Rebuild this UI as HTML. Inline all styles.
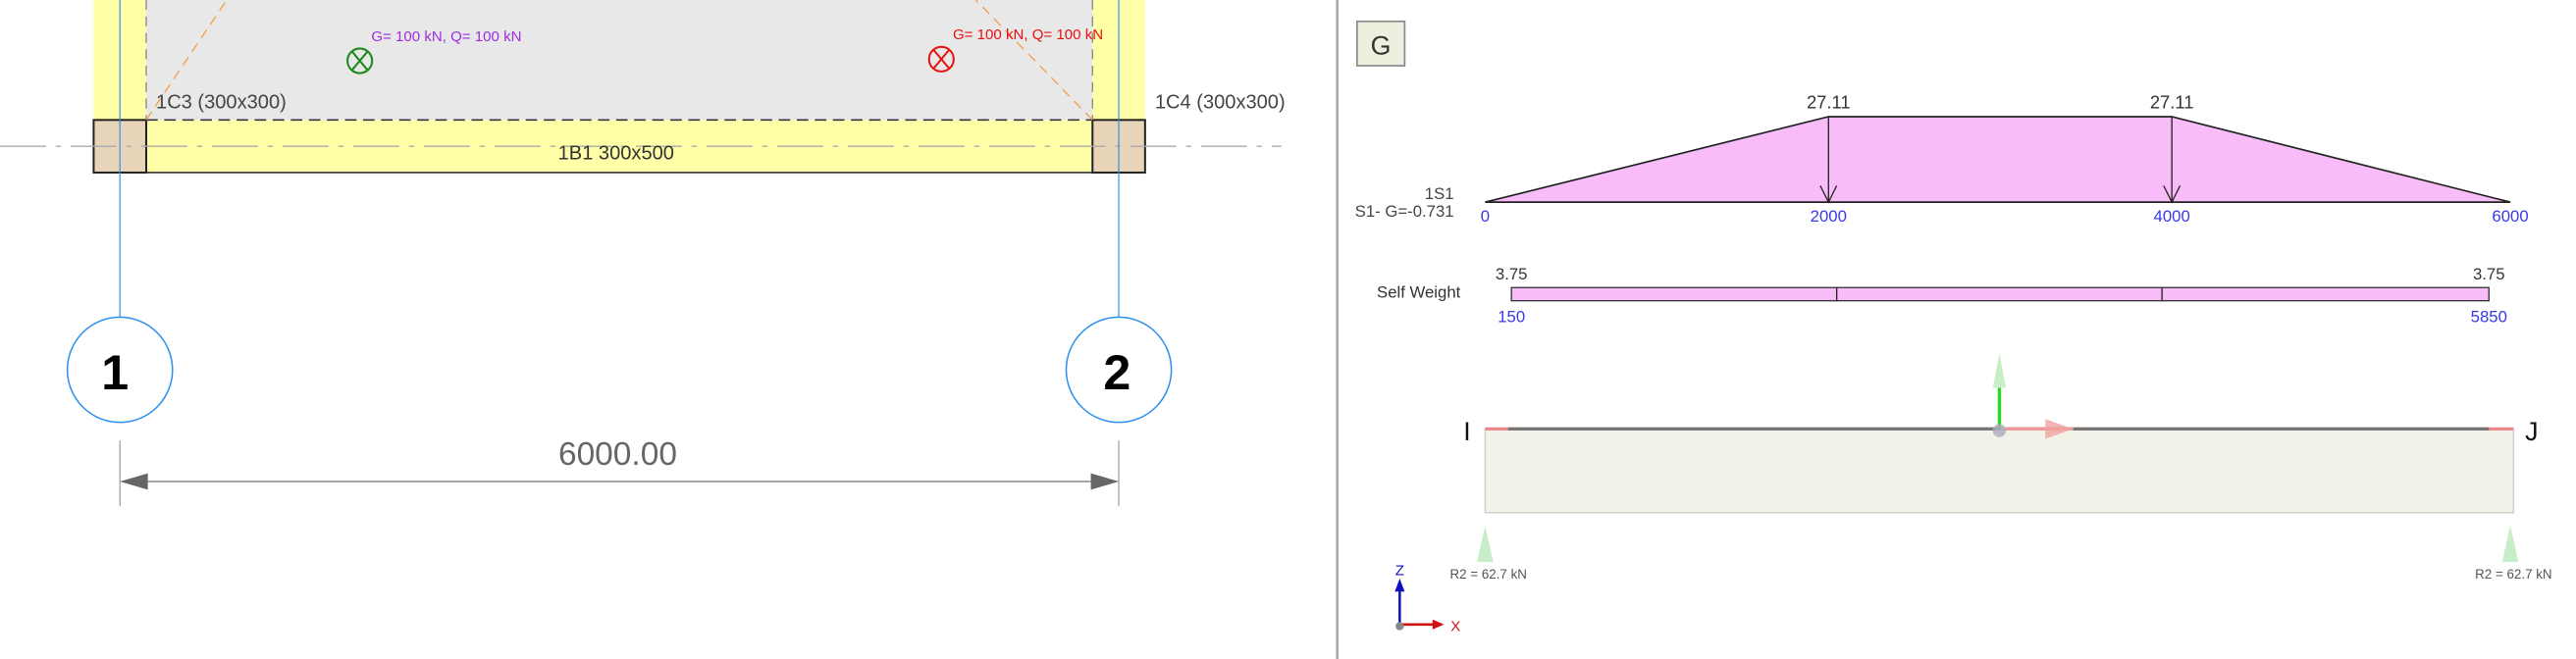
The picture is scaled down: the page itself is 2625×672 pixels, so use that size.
<!DOCTYPE html>
<html><head><meta charset="utf-8"><style>
html,body{margin:0;padding:0;background:#fff;}
svg{display:block;font-family:"Liberation Sans",sans-serif;}
</style></head><body>
<svg width="2625" height="672" viewBox="0 0 1568 401" preserveAspectRatio="none">
<!-- LEFT PANEL -->
<rect x="89" y="0" width="576" height="73" fill="#e8e8e8"/>
<rect x="57" y="0" width="32" height="105" fill="#ffffa8"/>
<rect x="665" y="0" width="32" height="105" fill="#ffffa8"/>
<line x1="89" y1="0" x2="89" y2="73" stroke="#888" stroke-width="0.8" stroke-dasharray="6,4"/>
<line x1="665" y1="0" x2="665" y2="73" stroke="#888" stroke-width="0.8" stroke-dasharray="6,4"/>
<rect x="89" y="73" width="576" height="32" fill="#ffffa8"/>
<line x1="89" y1="105" x2="665" y2="105" stroke="#333" stroke-width="1"/>
<line x1="89" y1="73" x2="665" y2="73" stroke="#334" stroke-width="1" stroke-dasharray="7,4"/>
<rect x="57" y="73" width="32" height="32" fill="#e8d4b8" stroke="#222" stroke-width="1.2"/>
<rect x="665" y="73" width="32" height="32" fill="#e8d4b8" stroke="#222" stroke-width="1.2"/>
<line x1="0" y1="89" x2="780" y2="89" stroke="#aaa" stroke-width="0.8" stroke-dasharray="28,6,3,6"/>
<line x1="89" y1="73" x2="138" y2="0" stroke="#f0a050" stroke-width="0.8" stroke-dasharray="6,4"/>
<line x1="665" y1="73" x2="594" y2="0" stroke="#f0a050" stroke-width="0.8" stroke-dasharray="6,4"/>
<line x1="73" y1="0" x2="73" y2="193" stroke="#2b8ff0" stroke-width="0.7"/>
<line x1="681" y1="0" x2="681" y2="193" stroke="#2b8ff0" stroke-width="0.7"/>
<circle cx="73" cy="225" r="32" fill="#fff" stroke="#2b8ff0" stroke-width="0.9"/>
<circle cx="681" cy="225" r="32" fill="#fff" stroke="#2b8ff0" stroke-width="0.9"/>
<text x="70" y="237" font-size="30" font-weight="bold" text-anchor="middle" fill="#000">1</text>
<text x="680" y="237" font-size="30" font-weight="bold" text-anchor="middle" fill="#000">2</text>
<text x="95" y="66" font-size="12" fill="#444">1C3 (300x300)</text>
<text x="703" y="66" font-size="12" fill="#444">1C4 (300x300)</text>
<text x="375" y="97" font-size="12" text-anchor="middle" fill="#333">1B1 300x500</text>
<circle cx="219" cy="37" r="7.5" fill="none" stroke="#1a8a1a" stroke-width="1.2"/>
<path d="M214 31 L224 43 M224 31 L214 43" stroke="#1a8a1a" stroke-width="1.2"/>
<text x="226" y="25" font-size="9" fill="#9a2ee0">G= 100 kN, Q= 100 kN</text>
<circle cx="573" cy="36" r="7.5" fill="none" stroke="#e81010" stroke-width="1.2"/>
<path d="M568 30 L578 42 M578 30 L568 42" stroke="#e81010" stroke-width="1.2"/>
<text x="580" y="24" font-size="9" fill="#e81010">G= 100 kN, Q= 100 kN</text>
<line x1="73" y1="268" x2="73" y2="308" stroke="#888" stroke-width="0.6"/>
<line x1="681" y1="268" x2="681" y2="308" stroke="#888" stroke-width="0.6"/>
<line x1="90" y1="293" x2="664" y2="293" stroke="#999" stroke-width="1"/>
<polygon points="73,293 90,288 90,298" fill="#666"/>
<polygon points="681,293 664,288 664,298" fill="#666"/>
<text x="376" y="283" font-size="20" text-anchor="middle" fill="#666">6000.00</text>
<line x1="814" y1="0" x2="814" y2="401" stroke="#aaa" stroke-width="1.5"/>
<!-- RIGHT PANEL -->
<rect x="826" y="13" width="29" height="27" fill="#efefe0" stroke="#888" stroke-width="1"/>
<text x="840.5" y="33" font-size="16" text-anchor="middle" fill="#333">G</text>
<polygon points="904,123 1113,71 1322,71 1528,123" fill="#f8bdf8" stroke="#222" stroke-width="1"/>
<line x1="1113" y1="71" x2="1113" y2="123" stroke="#222" stroke-width="0.8"/>
<line x1="1322" y1="71" x2="1322" y2="123" stroke="#222" stroke-width="0.8"/>
<path d="M1108 113 L1113 123 L1118 113 M1317 113 L1322 123 L1327 113" stroke="#222" fill="none" stroke-width="0.8"/>
<text x="1113" y="66" font-size="11" text-anchor="middle" fill="#333">27.11</text>
<text x="1322" y="66" font-size="11" text-anchor="middle" fill="#333">27.11</text>
<text x="904" y="135" font-size="10" text-anchor="middle" fill="#3838e8">0</text>
<text x="1113" y="135" font-size="10" text-anchor="middle" fill="#3838e8">2000</text>
<text x="1322" y="135" font-size="10" text-anchor="middle" fill="#3838e8">4000</text>
<text x="1528" y="135" font-size="10" text-anchor="middle" fill="#3838e8">6000</text>
<text x="885" y="121" font-size="10" text-anchor="end" fill="#444">1S1</text>
<text x="885" y="132" font-size="10" text-anchor="end" fill="#444">S1- G=-0.731</text>
<rect x="920" y="175" width="595" height="8" fill="#f8bdf8" stroke="#333" stroke-width="0.8"/>
<line x1="1118" y1="175" x2="1118" y2="183" stroke="#222" stroke-width="0.8"/>
<line x1="1316" y1="175" x2="1316" y2="183" stroke="#222" stroke-width="0.8"/>
<text x="920" y="170" font-size="10" text-anchor="middle" fill="#333">3.75</text>
<text x="1515" y="170" font-size="10" text-anchor="middle" fill="#333">3.75</text>
<text x="889" y="181" font-size="10" text-anchor="end" fill="#333">Self Weight</text>
<text x="920" y="196" font-size="10" text-anchor="middle" fill="#3838e8">150</text>
<text x="1515" y="196" font-size="10" text-anchor="middle" fill="#3838e8">5850</text>
<rect x="904" y="261" width="626" height="51" fill="#f2f2e8" stroke="#ccc" stroke-width="0.8"/>
<line x1="904" y1="261" x2="1530" y2="261" stroke="#e88" stroke-width="2"/>
<line x1="918" y1="261" x2="1515" y2="261" stroke="#777" stroke-width="2"/>
<line x1="1217" y1="261" x2="1262" y2="261" stroke="#e99" stroke-width="2"/>
<polygon points="1245,255 1262,261 1245,267" fill="#f0a0a0" opacity="0.8"/>
<line x1="1217" y1="236" x2="1217" y2="261" stroke="#22dd22" stroke-width="2"/>
<polygon points="1213,236 1217,215 1221,236" fill="#c8eec8"/>
<circle cx="1217" cy="262" r="4" fill="#aab" opacity="0.8"/>
<text x="893" y="268" font-size="16" text-anchor="middle" fill="#111">I</text>
<text x="1541" y="268" font-size="16" text-anchor="middle" fill="#111">J</text>
<polygon points="899,342 904,320 909,342" fill="#c8eec8"/>
<polygon points="1523,342 1528,320 1533,342" fill="#c8eec8"/>
<text x="906" y="352" font-size="8" text-anchor="middle" fill="#555">R2 = 62.7 kN</text>
<text x="1530" y="352" font-size="8" text-anchor="middle" fill="#555">R2 = 62.7 kN</text>
<line x1="852" y1="380" x2="852" y2="356" stroke="#1010c0" stroke-width="1.5"/>
<polygon points="849,360 852,352 855,360" fill="#1010c0"/>
<line x1="852" y1="380" x2="874" y2="380" stroke="#d01010" stroke-width="1.5"/>
<polygon points="872,377 879,380 872,383" fill="#d01010"/>
<circle cx="852" cy="381" r="2.5" fill="#888"/>
<text x="852" y="350" font-size="9" text-anchor="middle" fill="#1010c0">Z</text>
<text x="886" y="384" font-size="9" text-anchor="middle" fill="#d01010">X</text>
</svg>
</body></html>
